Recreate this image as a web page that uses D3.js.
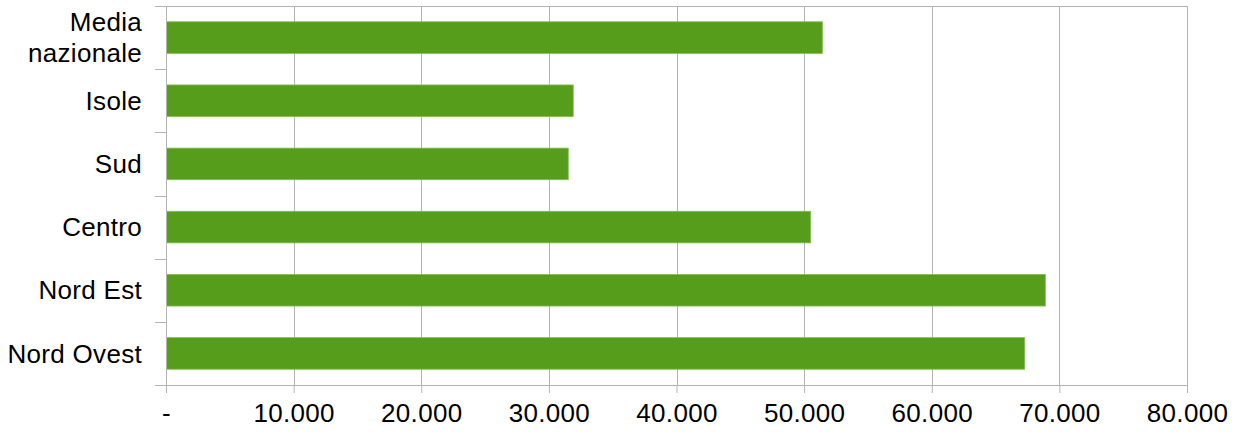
<!DOCTYPE html>
<html>
<head>
<meta charset="utf-8">
<script src="https://cdn.jsdelivr.net/npm/d3@7"></script>
<style>
  html, body { margin: 0; padding: 0; background: #fff; }
  svg { display: block; }
  text { font-family: "Liberation Sans", Arial, sans-serif; fill: #000; }
</style>
</head>
<body>
<svg id="chart" width="1239" height="432"></svg>
<script>
// Categories, top to bottom
const categories = ["Media nazionale", "Isole", "Sud", "Centro", "Nord Est", "Nord Ovest"];
// Values per category
const values = [51390, 31870, 31480, 50470, 68860, 67240];
// X axis ticks and their labels
const tickValues = [0, 10000, 20000, 30000, 40000, 50000, 60000, 70000, 80000];
const tickLabels = ["-", "10.000", "20.000", "30.000", "40.000", "50.000", "60.000", "70.000", "80.000"];

const svg = d3.select("#chart");
const margin = { left: 166, right: 52, top: 6, bottom: 47 };
const W = 1239, H = 432;
const innerW = W - margin.left - margin.right;
const innerH = H - margin.top - margin.bottom;
const fontSize = 26;

const x = d3.scaleLinear().domain([0, 80000]).range([0, innerW]);
const y = d3.scaleBand().domain(categories).range([0, innerH]).paddingInner(0.5).paddingOuter(0.25);

const g = svg.append("g").attr("transform", `translate(${margin.left},${margin.top})`);
const gridColor = "#b3b3b3";

// Vertical gridlines
g.selectAll("line.grid").data(tickValues).enter().append("line")
  .attr("class", "grid")
  .attr("x1", d => Math.round(x(d)) + 0.5).attr("x2", d => Math.round(x(d)) + 0.5)
  .attr("y1", 0).attr("y2", innerH)
  .attr("stroke", gridColor).attr("stroke-width", 1);

// Top border
g.append("line").attr("x1", 0).attr("x2", innerW).attr("y1", 0.5).attr("y2", 0.5)
  .attr("stroke", gridColor);

// Bars
g.selectAll("rect.bar").data(categories).enter().append("rect")
  .attr("class", "bar")
  .attr("x", x(0) + 0.5)
  .attr("y", d => y(d))
  .attr("width", (d, i) => x(values[i]) - x(0))
  .attr("height", y.bandwidth())
  .attr("fill", "#579d1c")
  .attr("stroke", "#7fbf4a")
  .attr("stroke-width", 0.8);

// Bottom axis
const xAxis = d3.axisBottom(x).tickValues(tickValues)
  .tickFormat((d, i) => tickLabels[i]).tickSize(8).tickPadding(11);
const gx = g.append("g").attr("transform", `translate(0,${innerH})`).call(xAxis);
gx.select(".domain").attr("stroke", gridColor).attr("d", `M-11,0.5H${innerW}`);
gx.selectAll(".tick line").attr("stroke", gridColor);
gx.selectAll(".tick text").attr("font-size", fontSize)
  .attr("font-family", "Liberation Sans, Arial, sans-serif")
  .attr("letter-spacing", 0.3);

// Left axis: ticks at band boundaries
const step = y.step();
const boundaries = d3.range(categories.length + 1).map(i => i * step);
g.selectAll("line.ytick").data(boundaries).enter().append("line")
  .attr("class", "ytick")
  .attr("x1", -11).attr("x2", 0)
  .attr("y1", d => Math.round(d) + 0.5).attr("y2", d => Math.round(d) + 0.5)
  .attr("stroke", gridColor);
g.append("line").attr("x1", 0.5).attr("x2", 0.5).attr("y1", 0).attr("y2", innerH + 8)
  .attr("stroke", gridColor);

// Category labels
const labelX = -24;
categories.forEach(c => {
  const cy = y(c) + y.bandwidth() / 2;
  const words = c === "Media nazionale" ? ["Media", "nazionale"] : [c];
  const lh = 31;
  const t = g.append("text")
    .attr("text-anchor", "end")
    .attr("font-size", fontSize)
    .attr("letter-spacing", 0.3)
    .attr("x", labelX);
  words.forEach((w, i) => {
    t.append("tspan").attr("x", labelX)
      .attr("y", cy + (i - (words.length - 1) / 2) * lh)
      .attr("dy", "0.35em")
      .text(w);
  });
});
</script>
</body>
</html>
